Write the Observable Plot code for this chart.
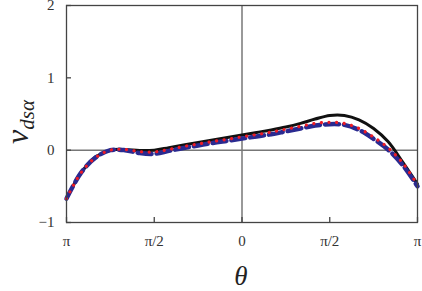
<!DOCTYPE html>
<html>
<head>
<meta charset="utf-8">
<script src="https://cdn.jsdelivr.net/npm/d3@7"></script>
<script src="https://cdn.jsdelivr.net/npm/@observablehq/plot@0.6"></script>
<style>
  html, body { margin: 0; padding: 0; background: white; }
  #chart { width: 422px; height: 291px; }
</style>
</head>
<body>
<div id="chart"></div>
<script>
// angle samples (radians), step pi/12
const theta = [-3.1416, -2.8798, -2.6180, -2.3562, -2.0944, -1.8326, -1.5708, -1.3090, -1.0472, -0.7854, -0.5236, -0.2618,
  0, 0.2618, 0.5236, 0.7854, 1.0472, 1.3090, 1.5708, 1.8326, 2.0944, 2.3562, 2.6180, 2.8798, 3.1416];
// solid black series
const seriesBlack = [-0.67, -0.31, -0.09, 0.00, 0.01, -0.005, 0.00, 0.035, 0.07, 0.105, 0.14, 0.175,
  0.21, 0.245, 0.28, 0.32, 0.37, 0.43, 0.48, 0.48, 0.42, 0.30, 0.115, -0.17, -0.47];
// dotted red series
const seriesRed = [-0.67, -0.31, -0.10, 0.00, 0.01, -0.02, -0.025, 0.01, 0.05, 0.085, 0.12, 0.15,
  0.185, 0.215, 0.25, 0.29, 0.33, 0.37, 0.385, 0.37, 0.30, 0.18, 0.03, -0.18, -0.48];
// dashed blue series
const seriesBlue = [-0.67, -0.31, -0.10, 0.00, 0.00, -0.04, -0.05, -0.01, 0.03, 0.065, 0.10, 0.13,
  0.16, 0.19, 0.22, 0.26, 0.30, 0.34, 0.36, 0.35, 0.28, 0.155, 0.005, -0.21, -0.50];

const xTickValues = [-Math.PI, -Math.PI / 2, 0, Math.PI / 2, Math.PI];
const xTickLabels = ["π", "π/2", "0", "π/2", "π"];
const yTickValues = [-1, 0, 1, 2];
const xLabel = "θ";
const yLabelMain = "v";
const yLabelSub = "dsα";

const font = "'Liberation Serif', 'DejaVu Serif', serif";

const plot = Plot.plot({
  width: 422,
  height: 291,
  marginLeft: 66,
  marginRight: 5,
  marginTop: 5,
  marginBottom: 69,
  style: { fontFamily: font, background: "white", color: "#333", overflow: "visible" },
  x: { domain: [-Math.PI, Math.PI] },
  y: { domain: [-1, 2] },
  marks: [
    Plot.ruleY([0], { stroke: "#777", strokeWidth: 1.5 }),
    Plot.ruleX([0], { stroke: "#777", strokeWidth: 1.5 }),
    Plot.lineY(seriesBlack, { x: theta, curve: "catmull-rom", stroke: "#111", strokeWidth: 3 }),
    Plot.lineY(seriesBlue, { x: theta, curve: "catmull-rom", stroke: "#2a2a90", strokeWidth: 4.5, strokeDasharray: "14,5" }),
    Plot.lineY(seriesRed, { x: theta, curve: "catmull-rom", stroke: "#ee1c25", strokeWidth: 3.2, strokeDasharray: "0.1,7.5", strokeLinecap: "round" }),
    Plot.frame({ stroke: "#444", strokeWidth: 1.3 }),
    Plot.tickX(xTickValues, { x: d => d, stroke: "#444", strokeWidth: 1.3, insetTop: 212 }),
    Plot.tickY(yTickValues, { y: d => d, stroke: "#444", strokeWidth: 1.3, insetRight: 346 }),
    Plot.axisX(xTickValues, { tickSize: 0, tickPadding: 13, label: null, fontSize: 15, tickFormat: (d, i) => xTickLabels[i] }),
    Plot.axisY(yTickValues, { tickSize: 0, tickPadding: 12, label: null, fontSize: 15, tickFormat: d3.format("d") })
  ]
});

document.getElementById("chart").appendChild(plot);

const svg = d3.select(plot);
svg.append("text")
  .attr("x", 241)
  .attr("y", 285)
  .attr("text-anchor", "middle")
  .attr("font-family", font)
  .attr("font-style", "italic")
  .attr("font-size", 27)
  .attr("fill", "#222")
  .text(xLabel);

const yl = svg.append("text")
  .attr("transform", "translate(28,122) rotate(-90)")
  .attr("text-anchor", "middle")
  .attr("font-family", font)
  .attr("font-style", "italic")
  .attr("fill", "#222");
yl.append("tspan").attr("font-size", 32).text(yLabelMain);
yl.append("tspan").attr("font-size", 21).attr("dy", 6).text(yLabelSub);
</script>
</body>
</html>
